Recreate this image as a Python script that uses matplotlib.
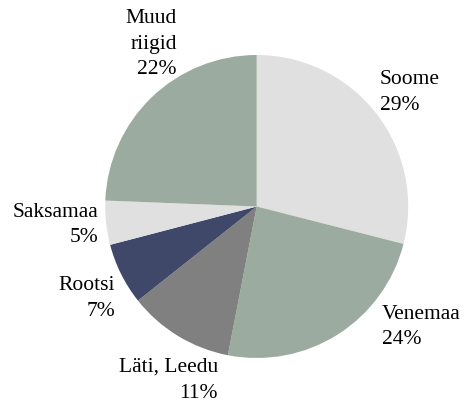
import matplotlib.pyplot as plt

# data
countries = ["Soome", "Venemaa", "Läti, Leedu", "Rootsi", "Saksamaa", "Muud\nriigid"]
shares = [29.0, 24.1, 11.3, 6.6, 4.7, 24.4]   # slice sizes as drawn
pct_labels = ["29%", "24%", "11%", "7%", "5%", "22%"]  # printed labels
colors = ["#e0e0e0", "#9cab9f", "#808080", "#3f4868", "#e0e0e0", "#9cab9f"]

W, H = 469, 403
cx, cy, r = 256.7, 206.5, 151.5   # pie centre / radius in pixels


def px(x, y):
    # pixel (from top-left) -> data coords, pie radius = 1
    return (x - cx) / r, (cy - y) / r


# label anchor: x pixel, first baseline pixel, alignment
label_pos = [
    (380, 84, "left"),
    (382, 319, "left"),
    (218, 372, "right"),
    (115, 290, "right"),
    (98, 217, "right"),
    (177, 23, "right"),
]
pitch = 25.5

plt.rcParams["font.family"] = ["Liberation Serif", "DejaVu Serif"]
fig = plt.figure(figsize=(W / 100, H / 100), dpi=100)
ax = fig.add_axes([0, 0, 1, 1])
ax.pie(shares, colors=colors, startangle=90, counterclock=False,
       radius=1, wedgeprops=dict(linewidth=0))
x0, y0 = px(0, H)
x1, y1 = px(W, 0)
ax.set_xlim(x0, x1)
ax.set_ylim(y0, y1)
ax.set_aspect("auto")
ax.axis("off")

for name, pct, (lx, ly, ha) in zip(countries, pct_labels, label_pos):
    lines = name.split("\n") + [pct]
    for i, line in enumerate(lines):
        tx, ty = px(lx, ly + i * pitch)
        ax.text(tx, ty, line, ha=ha, va="baseline", fontsize=15.5, color="black")

fig.savefig("out.png", dpi=100)
